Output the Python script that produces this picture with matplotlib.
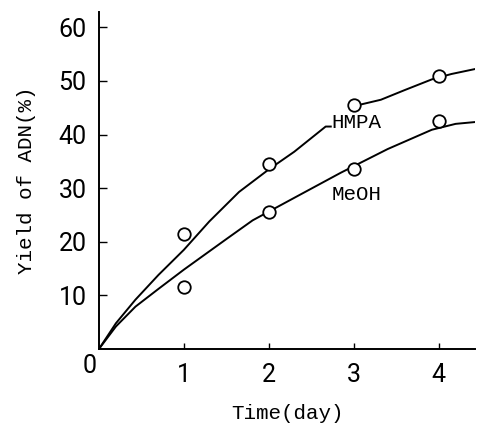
import matplotlib.pyplot as plt

# measured points
days = [1, 2, 3, 4]
hmpa_pts = [21.5, 34.5, 45.5, 51.0]
meoh_pts = [11.5, 25.5, 33.5, 42.5]

# hand drawn curves; HMPA is broken by its label
hmpa_x1 = [0, 0.2, 0.43, 0.7, 1.0, 1.3, 1.65, 2.0, 2.3, 2.67, 2.73]
hmpa_y1 = [0, 4.8, 9.2, 13.8, 18.5, 23.8, 29.3, 33.5, 36.8, 41.5, 41.5]
hmpa_x2 = [3.0, 3.32, 3.6, 3.92, 4.15, 4.45]
hmpa_y2 = [45.3, 46.5, 48.3, 50.3, 51.3, 52.3]
meoh_x = [0, 0.2, 0.43, 0.7, 1.0, 1.5, 1.81, 2.3, 2.85, 3.4, 3.92, 4.2, 4.47]
meoh_y = [0, 4.2, 7.9, 11.2, 14.8, 20.5, 24.0, 28.2, 32.9, 37.3, 40.9, 42.0, 42.4]

fig = plt.figure(figsize=(4.78, 4.23), dpi=100)
ax = fig.add_axes([0.207, 0.175, 0.787, 0.797])

ax.plot(hmpa_x1, hmpa_y1, color='black', lw=1.4)
ax.plot(hmpa_x2, hmpa_y2, color='black', lw=1.4)
ax.plot(meoh_x, meoh_y, color='black', lw=1.4)
ax.plot(days, hmpa_pts, 'o', mfc='white', mec='black', ms=9, mew=1.3)
ax.plot(days, meoh_pts, 'o', mfc='white', mec='black', ms=9, mew=1.3)

mono = 'Liberation Mono'
ax.text(3.03, 42.2, 'HMPA', family=mono, fontsize=15, ha='center', va='center')
ax.text(3.03, 28.8, 'MeOH', family=mono, fontsize=15, ha='center', va='center')

ax.set_xlim(0, 4.43)
ax.set_ylim(0, 62.9)
ax.set_xticks(days)
ax.set_yticks([10, 20, 30, 40, 50, 60])
ax.tick_params(direction='in', length=6, width=1, labelsize=18, pad=9)
ax.tick_params(axis='x', length=4, pad=10)
for lab in ax.get_xticklabels() + ax.get_yticklabels():
    lab.set_family('Roboto')
ax.text(-0.03, -1.0, '0', fontsize=18, ha='right', va='top', family='Roboto')

ax.spines['top'].set_visible(False)
ax.spines['right'].set_visible(False)
ax.spines['left'].set_linewidth(1.4)
ax.spines['bottom'].set_linewidth(1.4)

ax.set_xlabel('Time(day)', family=mono, fontsize=15, labelpad=12)
ax.set_ylabel('Yield of ADN(%)', family=mono, fontsize=15, labelpad=16)

fig.savefig('out.png')
